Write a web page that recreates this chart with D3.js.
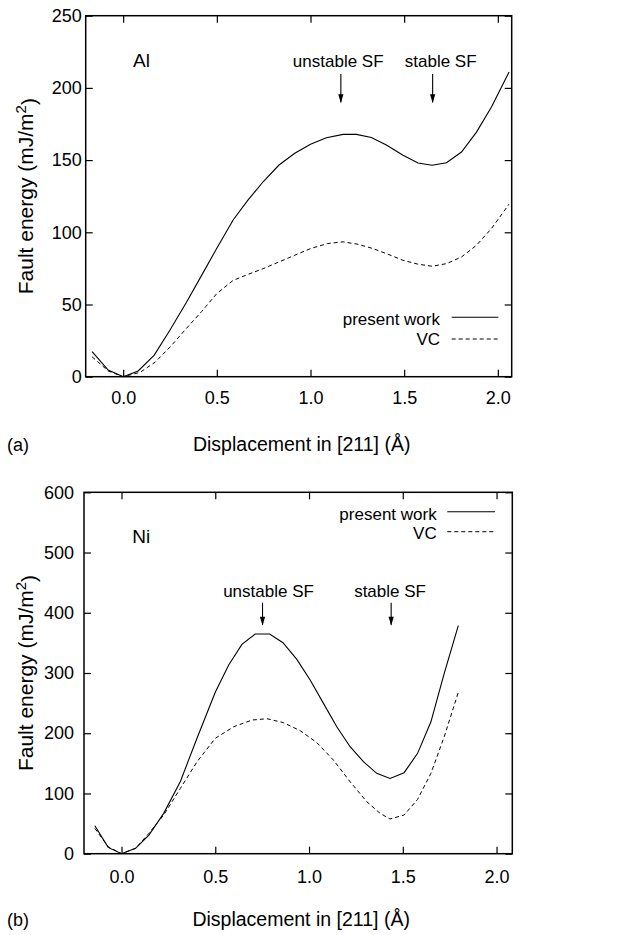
<!DOCTYPE html>
<html>
<head>
<meta charset="utf-8">
<script src="https://cdn.jsdelivr.net/npm/d3@7"></script>
<style>
  html, body { margin: 0; padding: 0; background: #fff; }
  svg { display: block; }
  text { font-family: "Liberation Sans", Arial, Helvetica, sans-serif; fill: #000; }
</style>
</head>
<body>
<svg id="chart" width="629" height="935"></svg>
<script>
// ---------- Data ----------
// Panel (a) Al
const alDisp    = [-0.166, -0.08, 0.0, 0.08, 0.166, 0.25, 0.338, 0.418, 0.5, 0.587, 0.667, 0.747, 0.832, 0.916, 1.0, 1.085, 1.174, 1.245, 1.325, 1.405, 1.494, 1.574, 1.649, 1.726, 1.806, 1.886, 1.966, 2.06];
const alPresent = [17.3, 4.6, 0.0, 4.0, 15.0, 32.3, 51.5, 70.0, 89.0, 108.5, 122.4, 135.0, 146.6, 154.7, 161.0, 165.5, 167.8, 167.8, 165.7, 160.4, 153.4, 148.0, 146.4, 148.2, 155.6, 169.4, 186.7, 211.0];
const alVCDisp  = [-0.166, -0.08, 0.0, 0.09, 0.17, 0.25, 0.338, 0.418, 0.5, 0.587, 0.667, 0.747, 0.832, 0.916, 1.0, 1.09, 1.174, 1.254, 1.334, 1.414, 1.494, 1.574, 1.649, 1.726, 1.806, 1.886, 1.966, 2.06];
const alVC      = [13.8, 4.0, 0.0, 3.0, 10.0, 20.5, 33.5, 45.0, 57.6, 66.7, 70.9, 74.8, 79.5, 84.1, 88.7, 92.2, 93.4, 91.7, 88.7, 84.8, 80.6, 77.9, 76.5, 78.3, 82.9, 91.0, 102.6, 119.5];

// Panel (b) Ni
const niDisp    = [-0.142, -0.071, 0.0, 0.075, 0.146, 0.225, 0.314, 0.403, 0.5, 0.571, 0.642, 0.713, 0.79, 0.861, 0.935, 1.006, 1.077, 1.148, 1.219, 1.29, 1.361, 1.432, 1.507, 1.579, 1.65, 1.721, 1.796];
const niPresent = [46.5, 10.5, 0.0, 8.9, 31.0, 67.0, 120.0, 192.0, 268.0, 313.0, 347.5, 364.7, 364.7, 350.3, 322.6, 288.3, 249.6, 210.8, 177.6, 152.7, 133.4, 125.0, 134.5, 166.6, 219.0, 299.4, 378.5];
const niVCDisp  = [-0.142, -0.071, 0.0, 0.075, 0.146, 0.225, 0.314, 0.403, 0.5, 0.598, 0.696, 0.776, 0.864, 0.953, 1.042, 1.13, 1.219, 1.308, 1.379, 1.432, 1.507, 1.579, 1.65, 1.721, 1.796];
const niVC      = [42.0, 11.6, 0.0, 8.9, 33.8, 64.2, 108.5, 152.7, 191.5, 210.8, 221.9, 224.1, 217.5, 204.2, 184.3, 155.5, 119.5, 86.3, 67.0, 57.6, 64.2, 90.2, 133.4, 194.2, 267.8];

// Ticks
const xTicks   = [0.0, 0.5, 1.0, 1.5, 2.0];
const alYTicks = [0, 50, 100, 150, 200, 250];
const niYTicks = [0, 100, 200, 300, 400, 500, 600];

// Text
const xTitle  = "Displacement in [211] (Å)";
const seriesNames = ["present work", "VC"];
const markLabels  = ["unstable SF", "stable SF"];

// Annotation positions in data units
const alArrowsX = [1.162, 1.652];
const alLabelsX = [1.148, 1.695];
const niArrowsX = [0.752, 1.438];
const niLabelsX = [0.784, 1.432];

// ---------- Drawing ----------
const svg = d3.select("#chart");

function panel(cfg) {
  const x = d3.scaleLinear().domain(cfg.xDomain).range([cfg.left, cfg.right]);
  const y = d3.scaleLinear().domain(cfg.yDomain).range([cfg.bottom, cfg.top]);
  const g = svg.append("g");
  const tick = 7;

  const ax = g.append("g").attr("transform", `translate(0,${cfg.bottom})`)
    .call(d3.axisBottom(x).tickValues(xTicks).tickFormat(d3.format(".1f")).tickSizeInner(-tick).tickSizeOuter(0).tickPadding(cfg.xPad));
  const axT = g.append("g").attr("transform", `translate(0,${cfg.top})`)
    .call(d3.axisTop(x).tickValues(xTicks).tickFormat("").tickSizeInner(-tick).tickSizeOuter(0));
  const ay = g.append("g").attr("transform", `translate(${cfg.left},0)`)
    .call(d3.axisLeft(y).tickValues(cfg.yTicks).tickFormat(d3.format("d")).tickSizeInner(-tick).tickSizeOuter(0).tickPadding(cfg.yPad));
  const ayR = g.append("g").attr("transform", `translate(${cfg.right},0)`)
    .call(d3.axisRight(y).tickValues(cfg.yTicks).tickFormat("").tickSizeInner(-tick).tickSizeOuter(0));

  [ax, axT, ay, ayR].forEach(a => {
    a.select(".domain").remove();
    a.selectAll(".tick line").attr("stroke", "#000").attr("stroke-width", 1.2);
    a.selectAll("text").style("font-family", '"Liberation Sans", Arial, sans-serif').style("font-size", "18px").attr("fill", "#000");
  });

  g.append("rect")
    .attr("x", cfg.left).attr("y", cfg.top)
    .attr("width", cfg.right - cfg.left).attr("height", cfg.bottom - cfg.top)
    .attr("fill", "none").attr("stroke", "#000").attr("stroke-width", 1.5);

  const line = d3.line().x(d => x(d[0])).y(d => y(d[1])).curve(d3.curveLinear);
  const solid = d3.zip(cfg.sx, cfg.sy);
  const dashed = d3.zip(cfg.dx, cfg.dy);
  g.append("path").datum(solid).attr("d", line)
    .attr("fill", "none").attr("stroke", "#000").attr("stroke-width", 1.1);
  g.append("path").datum(dashed).attr("d", line)
    .attr("fill", "none").attr("stroke", "#000").attr("stroke-width", 1.0)
    .attr("stroke-dasharray", "4,3");

  const lg = g.append("g");
  cfg.legend.forEach((L, i) => {
    lg.append("text").attr("x", L.tx).attr("y", L.ty)
      .attr("text-anchor", "end").style("font-size", "17px").text(seriesNames[i]);
    lg.append("line").attr("x1", L.x1).attr("x2", L.x2).attr("y1", L.ly).attr("y2", L.ly)
      .attr("stroke", "#000").attr("stroke-width", i === 0 ? 1.1 : 1.0)
      .attr("stroke-dasharray", i === 0 ? null : "4,3");
  });

  g.append("text").attr("x", x(cfg.elemX)).attr("y", y(cfg.elemY))
    .style("font-size", "19px").text(cfg.elem);

  cfg.arrowsX.forEach((ax0, i) => {
    const px = x(ax0);
    const y1 = y(cfg.arrowTop), y2 = y(cfg.arrowBot);
    g.append("line").attr("x1", px).attr("x2", px).attr("y1", y1).attr("y2", y2 - 1)
      .attr("stroke", "#000").attr("stroke-width", 1.1);
    g.append("path")
      .attr("d", `M${px - 2.6},${y2 - 9} L${px},${y2} L${px + 2.6},${y2 - 9} Z`)
      .attr("fill", "#000");
    g.append("text").attr("x", x(cfg.labelsX[i])).attr("y", y(cfg.labelY))
      .attr("text-anchor", "middle").style("font-size", "17px").text(markLabels[i]);
  });

  const cy = (cfg.top + cfg.bottom) / 2;
  const yt = g.append("text")
    .attr("transform", `translate(${cfg.yTitleX},${cy}) rotate(-90)`)
    .attr("text-anchor", "middle").style("font-size", "21px");
  yt.append("tspan").text("Fault energy (mJ/m");
  yt.append("tspan").attr("dy", "-0.45em").style("font-size", "15px").text("2");
  yt.append("tspan").attr("dy", "0.45em").text(")");

  g.append("text").attr("x", (cfg.left + cfg.right) / 2 + 3).attr("y", cfg.xTitleY)
    .attr("text-anchor", "middle").style("font-size", "19.5px").text(xTitle);
  g.append("text").attr("x", 7).attr("y", cfg.xTitleY)
    .style("font-size", "18px").text(cfg.tag);
}

panel({
  left: 85.7, right: 511.7, top: 15.7, bottom: 376.7,
  xDomain: [-0.2, 2.074], yDomain: [0, 250], yTicks: alYTicks,
  xPad: 15, yPad: 4,
  sx: alDisp, sy: alPresent, dx: alVCDisp, dy: alVC,
  legend: [
    { tx: 440, ty: 325, x1: 451.7, x2: 498.3, ly: 317.3 },
    { tx: 440, ty: 345, x1: 451.7, x2: 498.3, ly: 339 }
  ],
  elem: "Al", elemX: 0.053, elemY: 214.6,
  arrowsX: alArrowsX, labelsX: alLabelsX, arrowTop: 209.6, arrowBot: 189.3, labelY: 214.6,
  yTitleX: 33, xTitleY: 450.5, tag: "(a)"
});

panel({
  left: 84, right: 512.3, top: 492.3, bottom: 853.7,
  xDomain: [-0.2, 2.084], yDomain: [0, 600], yTicks: niYTicks,
  xPad: 17, yPad: 10,
  sx: niDisp, sy: niPresent, dx: niVCDisp, dy: niVC,
  legend: [
    { tx: 436.7, ty: 520, x1: 447.3, x2: 495, ly: 511.7 },
    { tx: 436.7, ty: 539.3, x1: 447.3, x2: 495, ly: 531.7 }
  ],
  elem: "Ni", elemX: 0.057, elemY: 515.4,
  arrowsX: niArrowsX, labelsX: niLabelsX, arrowTop: 416.7, arrowBot: 378.5, labelY: 426.7,
  yTitleX: 33, xTitleY: 926, tag: "(b)"
});
</script>
</body>
</html>
